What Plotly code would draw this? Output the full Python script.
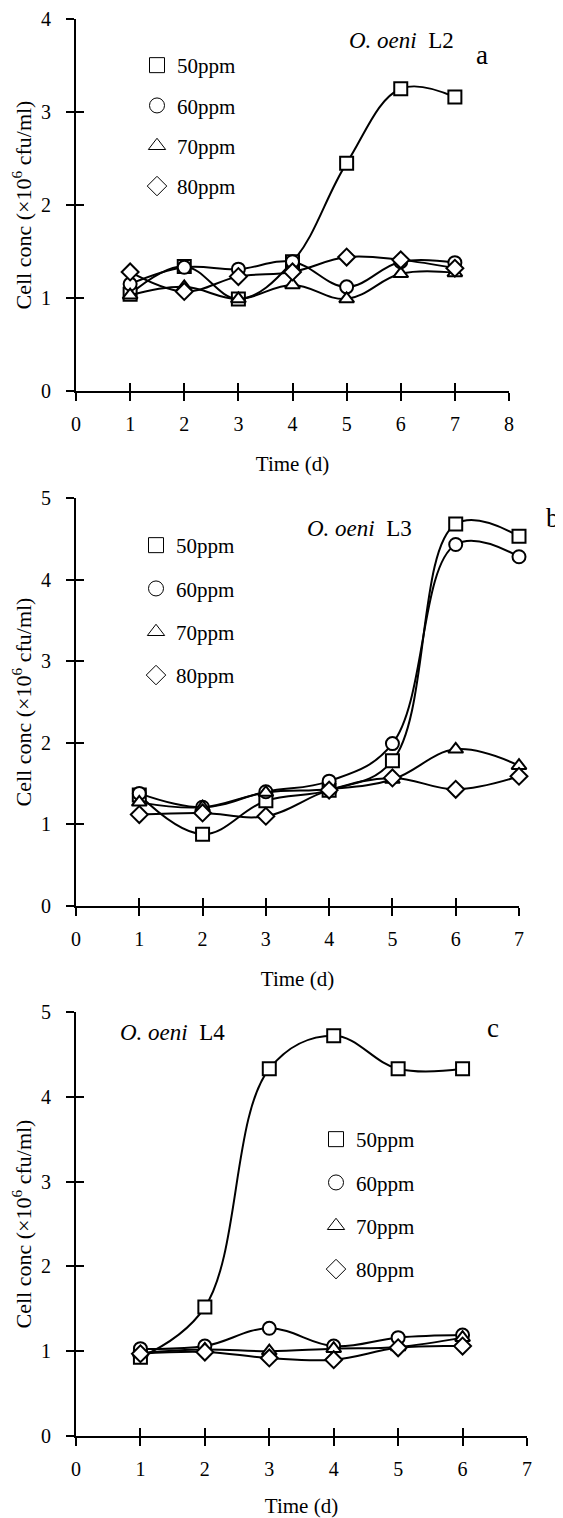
import plotly.graph_objects as go

OFF = 8              # page body margin of the html page
W, H = 563 - OFF, 1518 - OFF
FONT = "Liberation Serif"

series_names = ["50ppm", "60ppm", "70ppm", "80ppm"]
symbols = ["square-open", "circle-open", "triangle-up-open", "diamond-open"]

# Panel a: O. oeni L2
days_a = [1, 2, 3, 4, 5, 6, 7]
a_50 = [1.04, 1.34, 0.99, 1.39, 2.45, 3.25, 3.16]
a_60 = [1.15, 1.33, 1.31, 1.39, 1.12, 1.39, 1.38]
a_70 = [1.03, 1.12, 0.99, 1.14, 0.99, 1.26, 1.27]
a_80 = [1.28, 1.07, 1.23, 1.28, 1.44, 1.41, 1.32]

# Panel b: O. oeni L3
days_b = [1, 2, 3, 4, 5, 6, 7]
b_50 = [1.36, 0.88, 1.29, 1.42, 1.78, 4.68, 4.53]
b_60 = [1.38, 1.21, 1.40, 1.53, 1.99, 4.43, 4.28]
b_70 = [1.27, 1.21, 1.39, 1.43, 1.55, 1.92, 1.72]
b_80 = [1.12, 1.14, 1.10, 1.42, 1.57, 1.43, 1.59]

# Panel c: O. oeni L4
days_c = [1, 2, 3, 4, 5, 6]
c_50 = [0.93, 1.52, 4.33, 4.72, 4.33, 4.33]
c_60 = [1.03, 1.06, 1.27, 1.06, 1.16, 1.19]
c_70 = [0.98, 1.02, 1.00, 1.03, 1.05, 1.16]
c_80 = [0.97, 0.99, 0.92, 0.90, 1.04, 1.06]

panels = [
    dict(days=days_a, vals=[a_50, a_60, a_70, a_80], xr=8, yr=4,
         px=(76, 509), py=(19, 391), title="<i>O. oeni</i>  L2", letter="a"),
    dict(days=days_b, vals=[b_50, b_60, b_70, b_80], xr=7, yr=5,
         px=(76, 519), py=(498, 906), title="<i>O. oeni</i>  L3", letter="b"),
    dict(days=days_c, vals=[c_50, c_60, c_70, c_80], xr=7, yr=5,
         px=(76, 527), py=(1012, 1436), title="<i>O. oeni</i>  L4", letter="c"),
]

def fx(x):
    return (x - OFF) / W

def fy(y):
    return 1 - (y - OFF) / H

fig = go.Figure()
layout = {}
annotations = []

legend_pos = [(137, 45, 10), (136, 525, 13), (316, 1119, 13)]
title_pos = [(401, 41), (359, 528), (172, 1032)]
letter_pos = [(482, 55), (553, 518), (493, 1028)]

for i, p in enumerate(panels):
    n = i + 1
    sx = "" if n == 1 else str(n)
    ox = str(n + 3)
    xd = [fx(p["px"][0]), fx(p["px"][1])]
    yd = [fy(p["py"][1]), fy(p["py"][0])]
    axfont = dict(family=FONT, size=20, color="black")
    layout["xaxis" + sx] = dict(
        domain=xd, range=[0, p["xr"]], dtick=1, tick0=0, anchor="y" + sx,
        showline=True, linecolor="black", linewidth=2, ticks="outside",
        ticklen=8, tickwidth=2, tickcolor="black", showgrid=False,
        zeroline=False, tickfont=axfont, automargin=False, ticklabelstandoff=6,
        title=dict(text="Time (d)", font=dict(family=FONT, size=21, color="black"), standoff=22),
    )
    layout["yaxis" + sx] = dict(
        domain=yd, range=[0, p["yr"]], dtick=1, tick0=0, anchor="x" + sx,
        showline=True, linecolor="black", linewidth=2, ticks="outside",
        ticklen=8, tickwidth=2, tickcolor="black", showgrid=False,
        zeroline=False, tickfont=axfont, automargin=False, ticklabelstandoff=11,
        title=dict(text="Cell conc (×10<sup>6</sup> cfu/ml)",
                   font=dict(family=FONT, size=22, color="black"), standoff=8),
    )
    # overlay axes so the tick marks cross the axis lines
    layout["xaxis" + ox] = dict(
        domain=xd, range=[0, p["xr"]], dtick=1, tick0=0, anchor="y" + sx,
        overlaying="x" + sx, side="bottom", showline=False, ticks="inside",
        ticklen=8, tickwidth=2, tickcolor="black", showgrid=False,
        zeroline=False, showticklabels=False, automargin=False,
    )
    layout["yaxis" + ox] = dict(
        domain=yd, range=[0, p["yr"]], dtick=1, tick0=0, anchor="x" + sx,
        overlaying="y" + sx, side="left", showline=False, ticks="inside",
        ticklen=8, tickwidth=2, tickcolor="black", showgrid=False,
        zeroline=False, showticklabels=False, automargin=False,
    )
    fig.add_trace(go.Scatter(x=[None], y=[None], xaxis="x" + ox, yaxis="y" + ox,
                             showlegend=False, hoverinfo="skip"))

    for name, sym, vals in zip(series_names, symbols, p["vals"]):
        fig.add_trace(go.Scatter(
            x=p["days"], y=vals, mode="lines+markers", name=name,
            xaxis="x" + sx, yaxis="y" + sx, showlegend=False, cliponaxis=False,
            line=dict(color="black", width=2, shape="spline", smoothing=1.1),
            marker=dict(symbol=sym.replace("-open", ""), size=13, color="white",
                        line=dict(color="black", width=2)),
        ))
    lg = "legend" + sx
    for name, sym in zip(series_names, symbols):
        fig.add_trace(go.Scatter(
            x=[None], y=[None], mode="markers", name=name,
            xaxis="x" + sx, yaxis="y" + sx, legend=lg, legendgroup=lg + name,
            marker=dict(symbol=sym, size=15, color="black", line=dict(width=1)),
        ))
    lx, ly, gap = legend_pos[i]
    layout[lg] = dict(
        x=fx(lx), y=fy(ly), xanchor="left", yanchor="top",
        bgcolor="rgba(0,0,0,0)", borderwidth=0, tracegroupgap=gap,
        font=dict(family=FONT, size=21, color="black"),
    )
    tx, ty = title_pos[i]
    annotations.append(dict(text=p["title"], x=fx(tx), y=fy(ty), xref="paper", yref="paper",
                            xanchor="center", yanchor="middle", showarrow=False,
                            font=dict(family=FONT, size=23, color="black")))
    lxx, lyy = letter_pos[i]
    annotations.append(dict(text=p["letter"], x=fx(lxx), y=fy(lyy), xref="paper", yref="paper",
                            xanchor="center", yanchor="middle", showarrow=False,
                            font=dict(family=FONT, size=27, color="black")))

fig.update_layout(**layout)
fig.update_layout(
    width=W, height=H, margin=dict(l=0, r=0, t=0, b=0),
    paper_bgcolor="white", plot_bgcolor="white",
    annotations=annotations, showlegend=True,
)

fig.write_html("out.html")
